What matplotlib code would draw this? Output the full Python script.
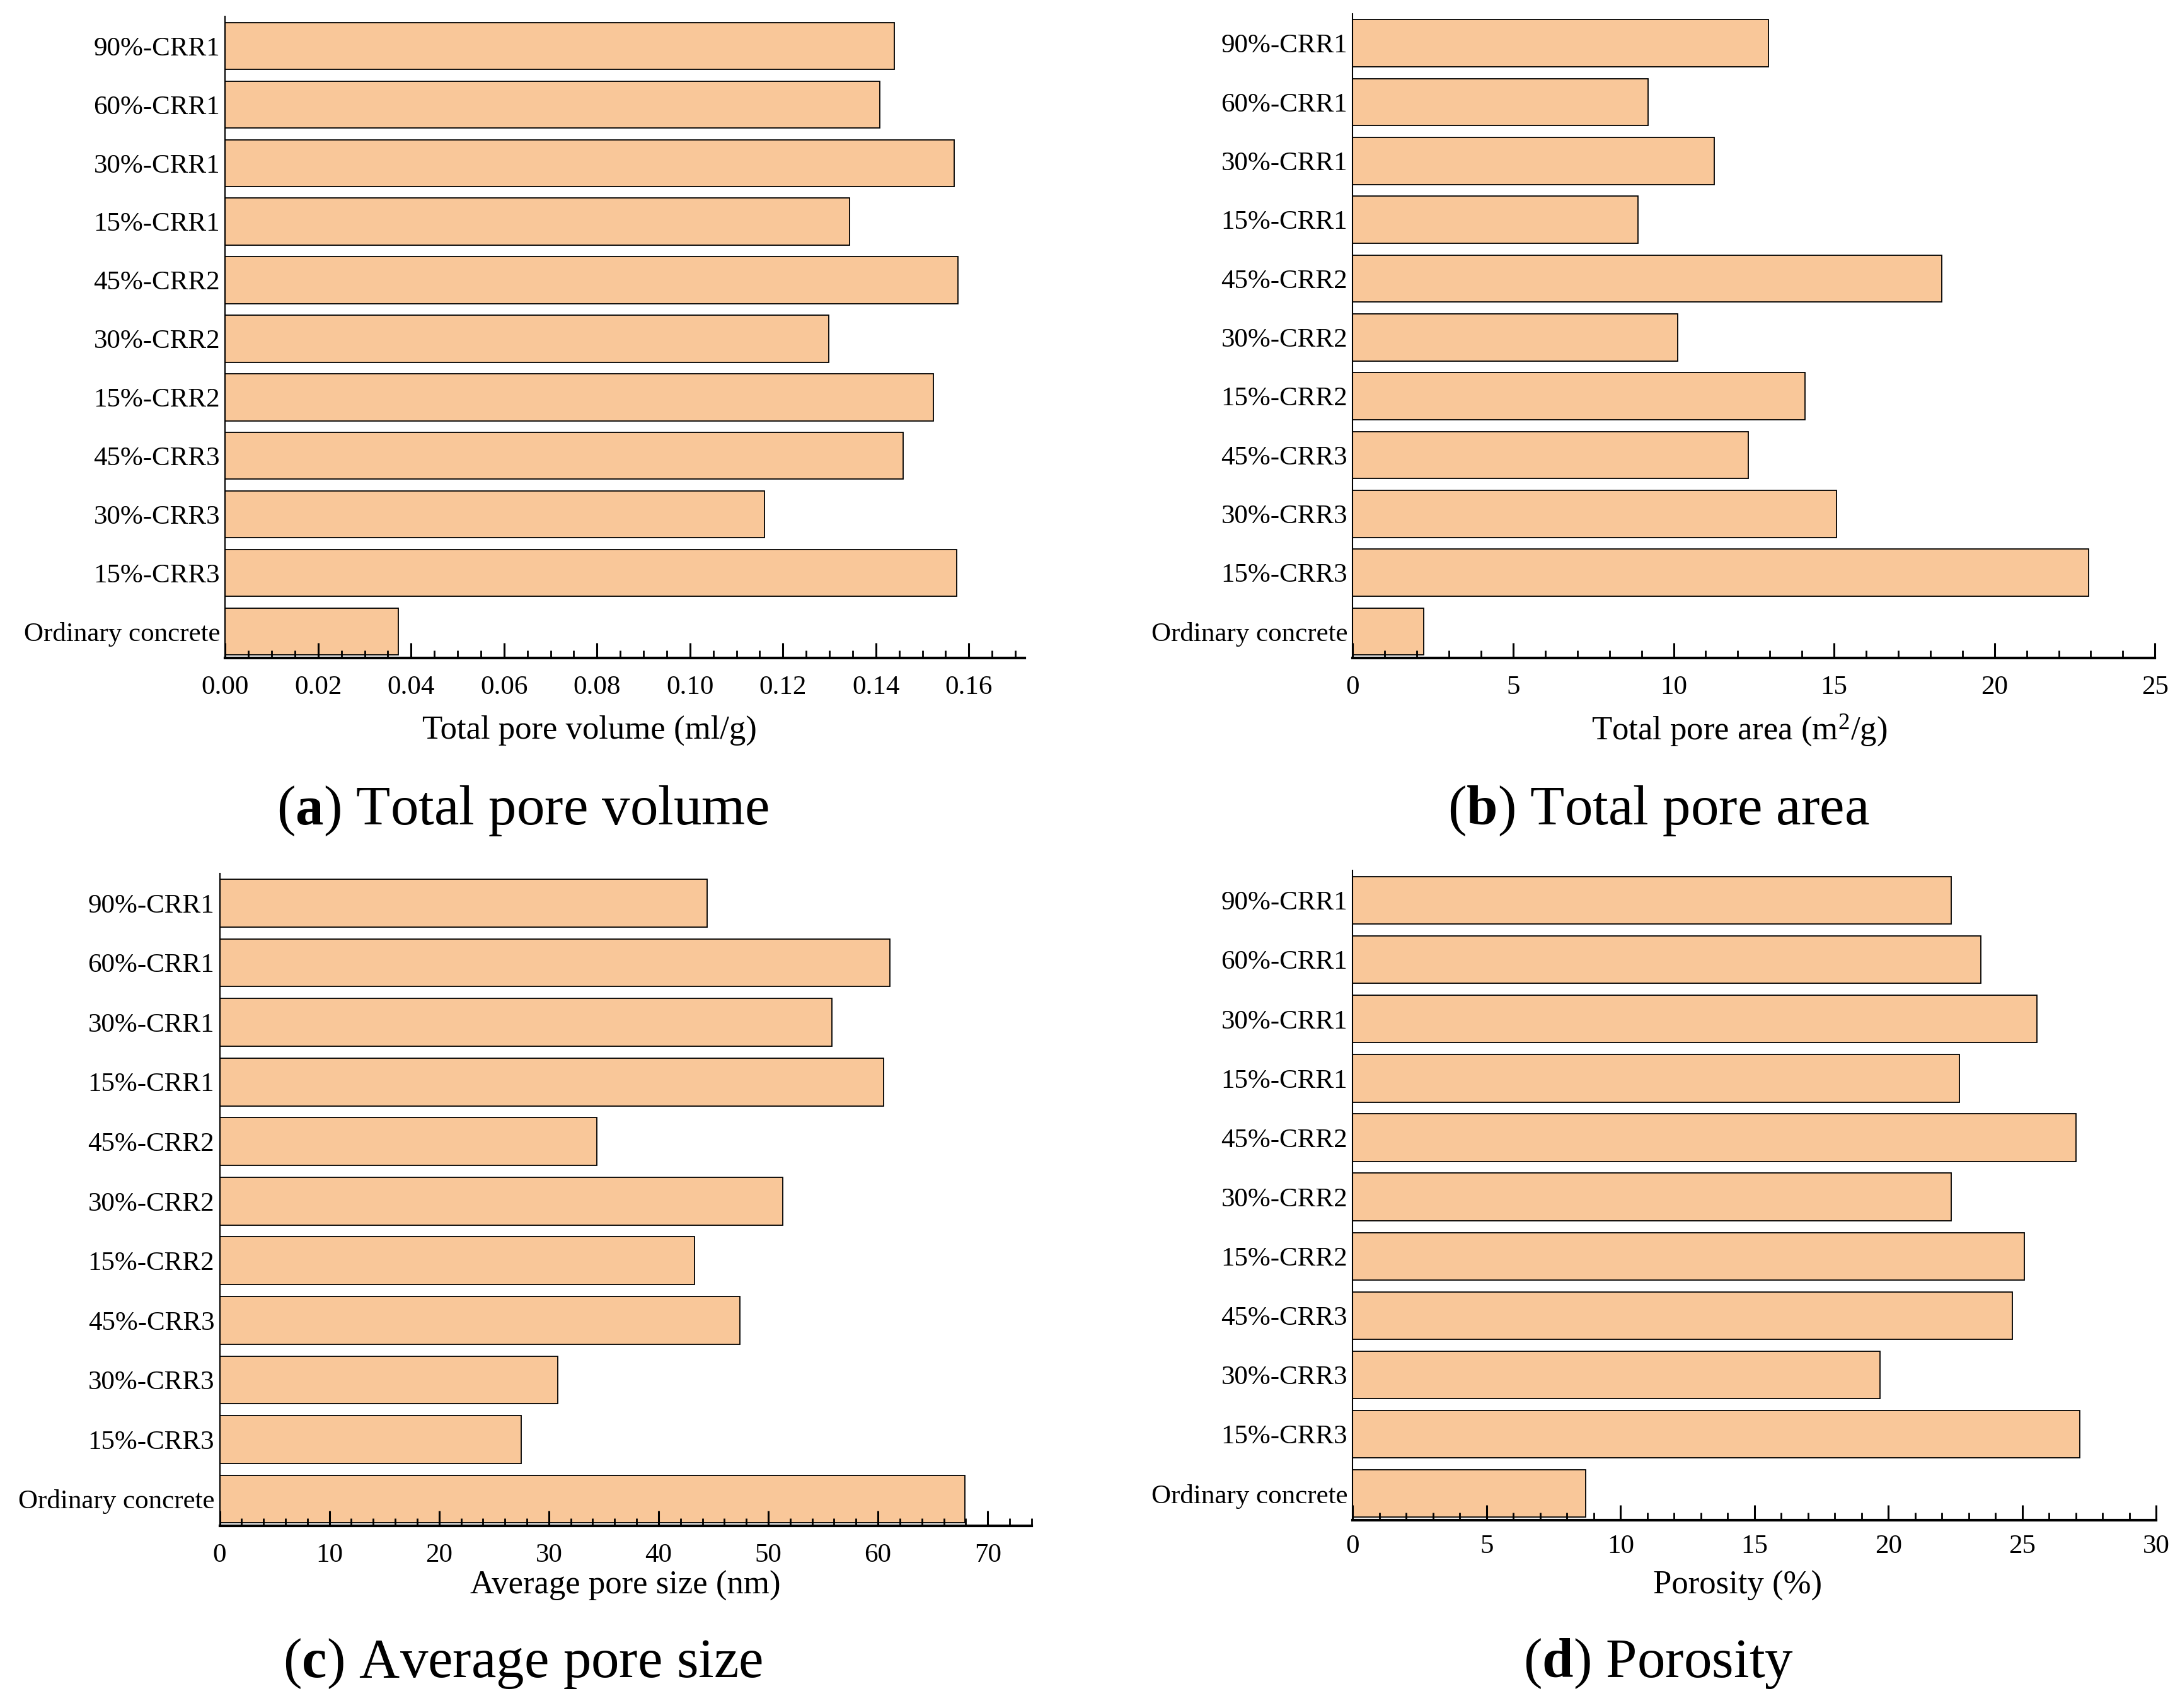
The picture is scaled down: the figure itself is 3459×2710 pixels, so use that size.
"""Pore structure of CRR concrete: four horizontal bar panels (a)-(d)."""
import matplotlib
matplotlib.use("Agg")
import matplotlib.pyplot as plt
from matplotlib.ticker import MultipleLocator, FormatStrFormatter

plt.rcParams["font.family"] = ["Liberation Serif", "DejaVu Serif"]
plt.rcParams["mathtext.fontset"] = "custom"
plt.rcParams["mathtext.rm"] = "Liberation Serif"
plt.rcParams["mathtext.it"] = "Liberation Serif"
plt.rcParams["mathtext.bf"] = "Liberation Serif:bold"

# bottom -> top
samples = ["Ordinary concrete", "15%-CRR3", "30%-CRR3", "45%-CRR3", "15%-CRR2",
           "30%-CRR2", "45%-CRR2", "15%-CRR1", "30%-CRR1", "60%-CRR1", "90%-CRR1"]
pore_volume = [0.0372, 0.1574, 0.1160, 0.1459, 0.1523, 0.1299, 0.1577, 0.1343, 0.1568, 0.1408, 0.1439]
pore_area = [2.21, 22.94, 15.08, 12.32, 14.10, 10.13, 18.36, 8.89, 11.27, 9.21, 12.96]
pore_size = [67.9, 27.5, 30.8, 47.4, 43.3, 51.3, 34.4, 60.5, 55.8, 61.1, 44.4]
porosity = [8.69, 27.13, 19.68, 24.62, 25.06, 22.34, 27.00, 22.65, 25.54, 23.44, 22.34]

BAR = "#F9C799"
W, H = 1568, 1228  # measuring grid of the layout


def panel(rect, vals, xmax, major, minor, fmt, pad):
    l, r, b, t = rect
    ax = fig.add_axes([l / W, 1 - b / H, (r - l) / W, (b - t) / H])
    ax.barh(range(len(samples)), vals, height=0.8, color=BAR, edgecolor="black", linewidth=1.3)
    ax.set_yticks(range(len(samples)))
    ax.set_yticklabels(samples)
    ax.set_ylim(-0.45, 10.5)
    ax.set_xlim(0, xmax)
    ax.xaxis.set_major_locator(MultipleLocator(major))
    ax.xaxis.set_minor_locator(MultipleLocator(minor))
    if fmt:
        ax.xaxis.set_major_formatter(FormatStrFormatter(fmt))
    for s in ["top", "right"]:
        ax.spines[s].set_visible(False)
    ax.spines["bottom"].set_linewidth(3.0)
    ax.spines["left"].set_linewidth(1.5)
    ax.tick_params(axis="y", length=0, pad=6, labelsize=31)
    ax.tick_params(axis="x", which="major", direction="in", length=17, width=2.2, pad=pad, labelsize=31)
    ax.tick_params(axis="x", which="minor", direction="in", length=9, width=2.0)
    return ax


fig = plt.figure(figsize=(34.59, 27.10), dpi=100)

panel((162, 737, 473, 12), pore_volume, 0.172, 0.02, 0.005, "%.2f", 20)
panel((973, 1550, 473, 10), pore_area, 25, 5, 1, None, 20)
panel((158, 742, 1097, 628), pore_size, 74, 10, 2, None, 20)
panel((973, 1551, 1093, 626), porosity, 30, 5, 1, None, 16)

xlabels = [("Total pore volume (ml/g)", 424, 525), (r"Total pore area (m$^2$/g)", 1251, 525),
           ("Average pore size (nm)", 450, 1140), ("Porosity (%)", 1250, 1140)]
for txt, x, y in xlabels:
    fig.text(x / W, 1 - y / H, txt, ha="center", va="center", fontsize=38)

captions = [("a", "Total pore volume", 376, 583), ("b", "Total pore area", 1193, 583),
            ("c", "Average pore size", 376, 1196), ("d", "Porosity", 1193, 1196)]
for k, txt, x, y in captions:
    fig.text(x / W, 1 - y / H, "(" + r"$\mathbf{" + k + "}$" + ") " + txt,
             ha="center", va="center", fontsize=64)

fig.savefig("out.png", dpi=100)
